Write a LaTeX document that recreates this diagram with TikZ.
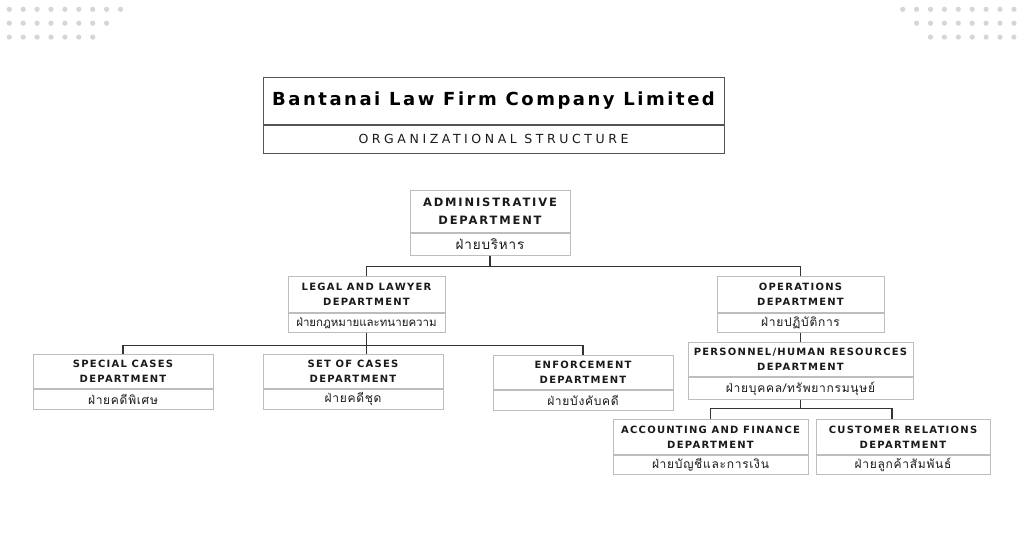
\documentclass[tikz,border=0pt]{standalone}
\usepackage{fontspec}
\setmainfont{DejaVu Sans}
\newfontfamily\titlefont[LetterSpace=14]{DejaVu Sans}
\newfontfamily\capsfont[LetterSpace=12.5]{DejaVu Sans}
\newfontfamily\bigcapsfont[LetterSpace=16]{DejaVu Sans}
\newfontfamily\subfont[LetterSpace=28.5]{DejaVu Sans}
\newfontfamily\thfont[Script=Thai,LetterSpace=6]{Loma}
\newfontfamily\thtightfont[Script=Thai]{Loma}
\usetikzlibrary{positioning,calc}
\definecolor{dotgray}{HTML}{D6D6D6}
\definecolor{boxgray}{HTML}{BDBDBD}
\definecolor{framegray}{HTML}{555555}
\definecolor{inktext}{HTML}{1A1A1A}
\definecolor{linkgray}{HTML}{333333}

\tikzset{
  depthead/.style={draw=boxgray, line width=0.9pt, align=center, inner sep=0pt, text=inktext,
    font=\capsfont\bfseries\fontsize{10}{15}\selectfont},
  deptthai/.style={draw=boxgray, line width=0.9pt, inner sep=0pt, text=inktext,
    font=\thfont\fontsize{12}{13}\selectfont},
  link/.style={draw=linkgray, line width=1.1pt},
}

\begin{document}
\begin{tikzpicture}[x=1pt, y=-1pt]
\useasboundingbox (0,0) rectangle (1024,554);
\fill[white] (0,0) rectangle (1024,554);

% corner dots
\foreach \r/\n in {0/9,1/8,2/7}
  \foreach \i in {1,...,\n}
    \fill[dotgray] ({9.3+13.9*(\i-1)},{9.3+13.9*\r}) circle (2.6pt);
\foreach \r/\n in {0/9,1/8,2/7}
  \foreach \i in {1,...,\n}
    \fill[dotgray] ({902.7+13.9*(\r+\i-1)},{9.3+13.9*\r}) circle (2.6pt);

% title
\node[draw=framegray, line width=0.9pt, minimum width=461, minimum height=47, inner sep=0pt, anchor=north,
  font=\titlefont\bfseries\fontsize{18}{22}\selectfont, text=black] (title) at (493.5,77) {Bantanai Law Firm Company Limited};
\node[draw=framegray, line width=0.9pt, minimum width=461, minimum height=28, inner sep=0pt, anchor=north,
  font=\subfont\fontsize{12.5}{15}\selectfont, text=inktext] (subtitle) at (title.south) {ORGANIZATIONAL STRUCTURE};

% departments
\node[depthead, minimum width=160, minimum height=42, anchor=north,
  font=\bigcapsfont\bfseries\fontsize{11.5}{18}\selectfont] (admin) at (490,190) {ADMINISTRATIVE\\DEPARTMENT};
\node[deptthai, minimum width=160, minimum height=22, anchor=north,
  font=\thfont\fontsize{13.5}{14}\selectfont] (admin-th) at (admin.south) {ฝ่ายบริหาร};

\node[depthead, minimum width=157, minimum height=36, anchor=north] (legal) at (366.5,276) {LEGAL AND LAWYER\\DEPARTMENT};
\node[deptthai, minimum width=157, minimum height=19, anchor=north,
  font=\thtightfont\fontsize{11.5}{13}\selectfont] (legal-th) at (legal.south) {ฝ่ายกฎหมายและทนายความ};

\node[depthead, minimum width=167, minimum height=36, anchor=north] (ops) at (800.5,276) {OPERATIONS\\DEPARTMENT};
\node[deptthai, minimum width=167, minimum height=19, anchor=north] (ops-th) at (ops.south) {ฝ่ายปฏิบัติการ};

\node[depthead, minimum width=180, minimum height=34, anchor=north] (special) at (123,354) {SPECIAL CASES\\DEPARTMENT};
\node[deptthai, minimum width=180, minimum height=20, anchor=north] (special-th) at (special.south) {ฝ่ายคดีพิเศษ};

\node[depthead, minimum width=180, minimum height=34, anchor=north] (set) at (353,354) {SET OF CASES\\DEPARTMENT};
\node[deptthai, minimum width=180, minimum height=20, anchor=north] (set-th) at (set.south) {ฝ่ายคดีชุด};

\node[depthead, minimum width=180, minimum height=34, anchor=north] (enforce) at (583,355) {ENFORCEMENT\\DEPARTMENT};
\node[deptthai, minimum width=180, minimum height=20, anchor=north] (enforce-th) at (enforce.south) {ฝ่ายบังคับคดี};

\node[depthead, minimum width=225, minimum height=34, anchor=north] (hr) at (800.5,342) {PERSONNEL/HUMAN RESOURCES\\DEPARTMENT};
\node[deptthai, minimum width=225, minimum height=22, anchor=north] (hr-th) at (hr.south) {ฝ่ายบุคคล/ทรัพยากรมนุษย์};

\node[depthead, minimum width=195, minimum height=35, anchor=north] (acct) at (710.5,419) {ACCOUNTING AND FINANCE\\DEPARTMENT};
\node[deptthai, minimum width=195, minimum height=19, anchor=north] (acct-th) at (acct.south) {ฝ่ายบัญชีและการเงิน};

\node[depthead, minimum width=174, minimum height=35, anchor=north] (cust) at (903,419) {CUSTOMER RELATIONS\\DEPARTMENT};
\node[deptthai, minimum width=174, minimum height=19, anchor=north] (cust-th) at (cust.south) {ฝ่ายลูกค้าสัมพันธ์};

% connectors
\draw[link] (admin-th.south) -- ++(0,11) -| (legal.north);
\draw[link] (admin-th.south) -- ++(0,11) -| (ops.north);
\draw[link] (legal-th.south) -- ++(0,13) -| (special.north);
\draw[link] (legal-th.south) -- ++(0,13) -| (enforce.north);
\draw[link] (legal-th.south) -- (legal-th.south |- set.north);
\draw[link] (ops-th.south) -- (hr.north);
\draw[link] (hr-th.south) -- ++(0,9) -| (acct.north);
\draw[link] (hr-th.south) -- ++(0,9) -| ([xshift=-11pt]cust.north);
\end{tikzpicture}
\end{document}
